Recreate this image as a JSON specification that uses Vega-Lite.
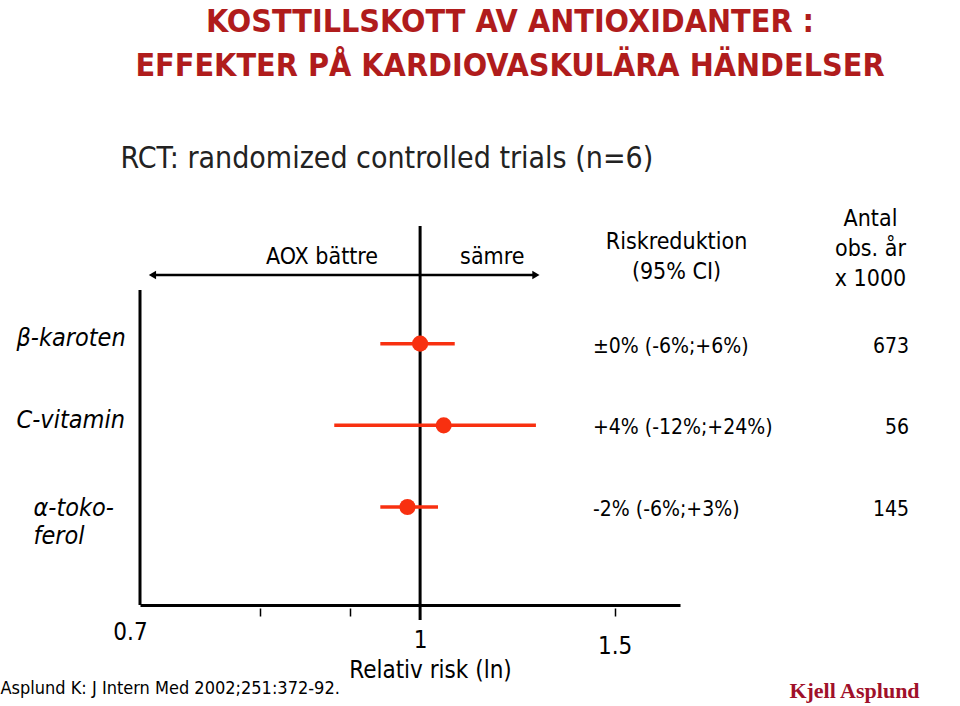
{
  "$schema": "https://vega.github.io/schema/vega-lite/v6.json",
  "width": 540,
  "height": 315,
  "autosize": {"type": "none"},
  "padding": {"left": 140, "top": 290, "right": 280, "bottom": 101},
  "background": "white",
  "config": {
    "view": {"stroke": null},
    "font": "Liberation Sans Narrow, DejaVu Sans Condensed, sans-serif",
    "axis": {"grid": false}
  },
  "title": {
    "text": ["KOSTTILLSKOTT AV ANTIOXIDANTER :", "EFFEKTER PÅ KARDIOVASKULÄRA HÄNDELSER"],
    "anchor": "middle",
    "frame": "group",
    "dx": 100,
    "offset": 60,
    "fontSize": 32,
    "lineHeight": 44,
    "fontWeight": "bold",
    "color": "#B01C1C",
    "font": "Liberation Sans Narrow, DejaVu Sans Condensed, sans-serif"
  },
  "data": {
    "values": [
      {"studie": "β-karoten", "rr": 1.00, "lagre": 0.94, "ovre": 1.06, "riskreduktion": "±0% (-6%;+6%)", "antal": 673},
      {"studie": "C-vitamin", "rr": 1.04, "lagre": 0.88, "ovre": 1.24, "riskreduktion": "+4% (-12%;+24%)", "antal": 56},
      {"studie": "α-tokoferol", "rr": 0.98, "lagre": 0.94, "ovre": 1.03, "riskreduktion": "-2% (-6%;+3%)", "antal": 145}
    ]
  },
  "layer": [
    {
      "layer": [
        {
          "data": {"values": [{}]},
          "mark": {"type": "rule", "color": "black", "strokeWidth": 3},
          "encoding": {
            "x": {"datum": 0.7, "type": "quantitative", "scale": {"type": "pow", "exponent": -1.3, "domain": [0.7, 1.84], "nice": false, "zero": false}}
          }
        },
        {
          "data": {"values": [{}]},
          "mark": {"type": "rule", "color": "black", "strokeWidth": 3, "yOffset": -36, "y2Offset": 15},
          "encoding": {
            "x": {"datum": 1, "type": "quantitative", "scale": {"type": "pow", "exponent": -1.3, "domain": [0.7, 1.84], "nice": false, "zero": false}},
            "y": {"datum": "rubrik", "type": "nominal", "scale": {"type": "point", "domain": ["rubrik", "β-karoten", "C-vitamin", "α-tokoferol"], "range": [-28, 217], "padding": 0}},
            "y2": {"value": "height"}
          }
        },
        {
          "data": {"values": [{}]},
          "mark": {"type": "rule", "color": "black", "strokeWidth": 2.5, "yOffset": 13},
          "encoding": {
            "x": {"datum": 0.709, "type": "quantitative", "scale": {"type": "pow", "exponent": -1.3, "domain": [0.7, 1.84], "nice": false, "zero": false}},
            "x2": {"datum": 1.24},
            "y": {"datum": "rubrik", "type": "nominal", "scale": {"type": "point", "domain": ["rubrik", "β-karoten", "C-vitamin", "α-tokoferol"], "range": [-28, 217], "padding": 0}}
          }
        },
        {
          "data": {"values": [{}]},
          "mark": {"type": "point", "shape": "triangle-left", "filled": true, "color": "black", "opacity": 1, "size": 70, "yOffset": 13},
          "encoding": {
            "x": {"datum": 0.709, "type": "quantitative", "scale": {"type": "pow", "exponent": -1.3, "domain": [0.7, 1.84], "nice": false, "zero": false}},
            "y": {"datum": "rubrik", "type": "nominal", "scale": {"type": "point", "domain": ["rubrik", "β-karoten", "C-vitamin", "α-tokoferol"], "range": [-28, 217], "padding": 0}}
          }
        },
        {
          "data": {"values": [{}]},
          "mark": {"type": "point", "shape": "triangle-right", "filled": true, "color": "black", "opacity": 1, "size": 70, "yOffset": 13},
          "encoding": {
            "x": {"datum": 1.24, "type": "quantitative", "scale": {"type": "pow", "exponent": -1.3, "domain": [0.7, 1.84], "nice": false, "zero": false}},
            "y": {"datum": "rubrik", "type": "nominal", "scale": {"type": "point", "domain": ["rubrik", "β-karoten", "C-vitamin", "α-tokoferol"], "range": [-28, 217], "padding": 0}}
          }
        },
        {
          "data": {"values": [{}]},
          "mark": {"type": "text", "align": "right", "baseline": "middle", "dx": -42, "dy": -5, "fontSize": 23, "color": "black"},
          "encoding": {
            "x": {"datum": 1, "type": "quantitative", "scale": {"type": "pow", "exponent": -1.3, "domain": [0.7, 1.84], "nice": false, "zero": false}},
            "y": {"datum": "rubrik", "type": "nominal", "scale": {"type": "point", "domain": ["rubrik", "β-karoten", "C-vitamin", "α-tokoferol"], "range": [-28, 217], "padding": 0}},
            "text": {"value": "AOX bättre"}
          }
        },
        {
          "data": {"values": [{}]},
          "mark": {"type": "text", "align": "left", "baseline": "middle", "dx": 40, "dy": -5, "fontSize": 23, "color": "black"},
          "encoding": {
            "x": {"datum": 1, "type": "quantitative", "scale": {"type": "pow", "exponent": -1.3, "domain": [0.7, 1.84], "nice": false, "zero": false}},
            "y": {"datum": "rubrik", "type": "nominal", "scale": {"type": "point", "domain": ["rubrik", "β-karoten", "C-vitamin", "α-tokoferol"], "range": [-28, 217], "padding": 0}},
            "text": {"value": "sämre"}
          }
        },
        {
          "mark": {"type": "rule", "color": "#F83010", "strokeWidth": 3.5},
          "encoding": {
            "x": {
              "field": "lagre", "type": "quantitative",
              "scale": {"type": "pow", "exponent": -1.3, "domain": [0.7, 1.84], "nice": false, "zero": false},
              "axis": {
                "orient": "bottom",
                "title": "Relativ risk (ln)",
                "titleFontSize": 24, "titleFontWeight": "normal", "titleColor": "black", "titlePadding": 0,
                "titleX": 290, "titleAlign": "center",
                "values": [0.7, 0.8, 0.9, 1, 1.5],
                "format": "~g",
                "labelExpr": "datum.value == 0.8 || datum.value == 0.9 ? '' : datum.label",
                "labelFontSize": 24, "labelColor": "black", "labelFlush": false,
                "labelPadding": {"condition": [{"test": "datum.value == 0.7", "value": 4}, {"test": "datum.value == 1.5", "value": 18}], "value": 12},
                "labelOffset": {"condition": {"test": "datum.value == 0.7", "value": -10}, "value": 0},
                "domainColor": "black", "domainWidth": 3,
                "tickColor": "black", "tickWidth": 1.5, "tickSize": 11, "tickDash": [0, 3, 8, 100],
                "tickOpacity": {"condition": {"test": "datum.value == 0.7 || datum.value == 1", "value": 0}, "value": 1}
              }
            },
            "x2": {"field": "ovre"},
            "y": {
              "field": "studie", "type": "nominal",
              "scale": {"type": "point", "domain": ["rubrik", "β-karoten", "C-vitamin", "α-tokoferol"], "range": [-28, 217], "padding": 0},
              "axis": {
                "orient": "left",
                "values": ["β-karoten", "C-vitamin", "α-tokoferol"],
                "labelExpr": "datum.label == 'α-tokoferol' ? ['α-toko-', 'ferol'] : datum.label",
                "domain": false, "ticks": false, "tickSize": 0,
                "labelAlign": "left", "labelBaseline": "top",
                "labelPadding": {"condition": {"test": "datum.value == 'α-tokoferol'", "value": 107}, "value": 124},
                "labelOffset": {"condition": {"test": "datum.value == 'α-tokoferol'", "value": -12}, "value": -18},
                "labelFontSize": 25, "labelFontStyle": "italic", "labelColor": "black", "labelLineHeight": 28,
                "title": "Asplund K: J Intern Med 2002;251:372-92.",
                "titleAngle": 0, "titleAlign": "left", "titleBaseline": "middle",
                "titleX": -140, "titleY": 398,
                "titleFontSize": 18, "titleFontWeight": "normal", "titleColor": "black"
              }
            }
          }
        },
        {
          "mark": {"type": "circle", "color": "#F83010", "opacity": 1, "size": 260},
          "encoding": {
            "x": {"field": "rr", "type": "quantitative", "scale": {"type": "pow", "exponent": -1.3, "domain": [0.7, 1.84], "nice": false, "zero": false}},
            "y": {"field": "studie", "type": "nominal", "scale": {"type": "point", "domain": ["rubrik", "β-karoten", "C-vitamin", "α-tokoferol"], "range": [-28, 217], "padding": 0}}
          }
        }
      ]
    },
    {
      "layer": [
        {
          "mark": {"type": "text", "align": "left", "baseline": "middle", "dx": -83, "dy": 3, "fontSize": 21, "color": "black"},
          "encoding": {
            "x": {
              "datum": "Riskreduktion\n(95% CI)", "type": "nominal",
              "scale": {"type": "point", "domain": ["Riskreduktion\n(95% CI)", "Antal\nobs. år\nx 1000"], "range": [536, 730], "padding": 0},
              "axis": {
                "orient": "top",
                "domain": false, "ticks": false, "tickSize": 0,
                "labelExpr": "split(datum.label, '\\n')",
                "labelAngle": 0, "labelFontSize": 23, "labelLineHeight": 30, "labelColor": "black", "labelPadding": 60,
                "labelBaseline": {"condition": {"test": "indexof(datum.value, 'Antal') == 0", "value": "bottom"}, "value": "top"},
                "labelAlign": "center",
                "title": "RCT: randomized controlled trials (n=6)",
                "titleX": -20, "titleY": -132, "titleAlign": "left", "titleBaseline": "middle",
                "titleFontSize": 30, "titleFontWeight": "normal", "titleColor": "#222222"
              }
            },
            "y": {
              "field": "studie", "type": "nominal",
              "scale": {"type": "point", "domain": ["rubrik", "β-karoten", "C-vitamin", "α-tokoferol"], "range": [-28, 217], "padding": 0},
              "axis": {
                "orient": "right",
                "domain": false, "ticks": false, "labels": false,
                "title": "Kjell Asplund",
                "titleAngle": 0, "titleAlign": "center", "titleBaseline": "middle",
                "titleX": 174, "titleY": 400,
                "titleFont": "Liberation Serif, DejaVu Serif, serif",
                "titleFontSize": 22, "titleFontWeight": "bold", "titleColor": "#A0102A"
              }
            },
            "text": {"field": "riskreduktion"}
          }
        },
        {
          "mark": {"type": "text", "align": "right", "baseline": "middle", "dx": 39, "dy": 3, "fontSize": 21, "color": "black"},
          "encoding": {
            "x": {"datum": "Antal\nobs. år\nx 1000", "type": "nominal", "scale": {"type": "point", "domain": ["Riskreduktion\n(95% CI)", "Antal\nobs. år\nx 1000"], "range": [536, 730], "padding": 0}},
            "y": {"field": "studie", "type": "nominal", "scale": {"type": "point", "domain": ["rubrik", "β-karoten", "C-vitamin", "α-tokoferol"], "range": [-28, 217], "padding": 0}},
            "text": {"field": "antal"}
          }
        }
      ]
    }
  ],
  "resolve": {
    "scale": {"x": "independent", "y": "independent"},
    "axis": {"x": "independent", "y": "independent"}
  }
}
